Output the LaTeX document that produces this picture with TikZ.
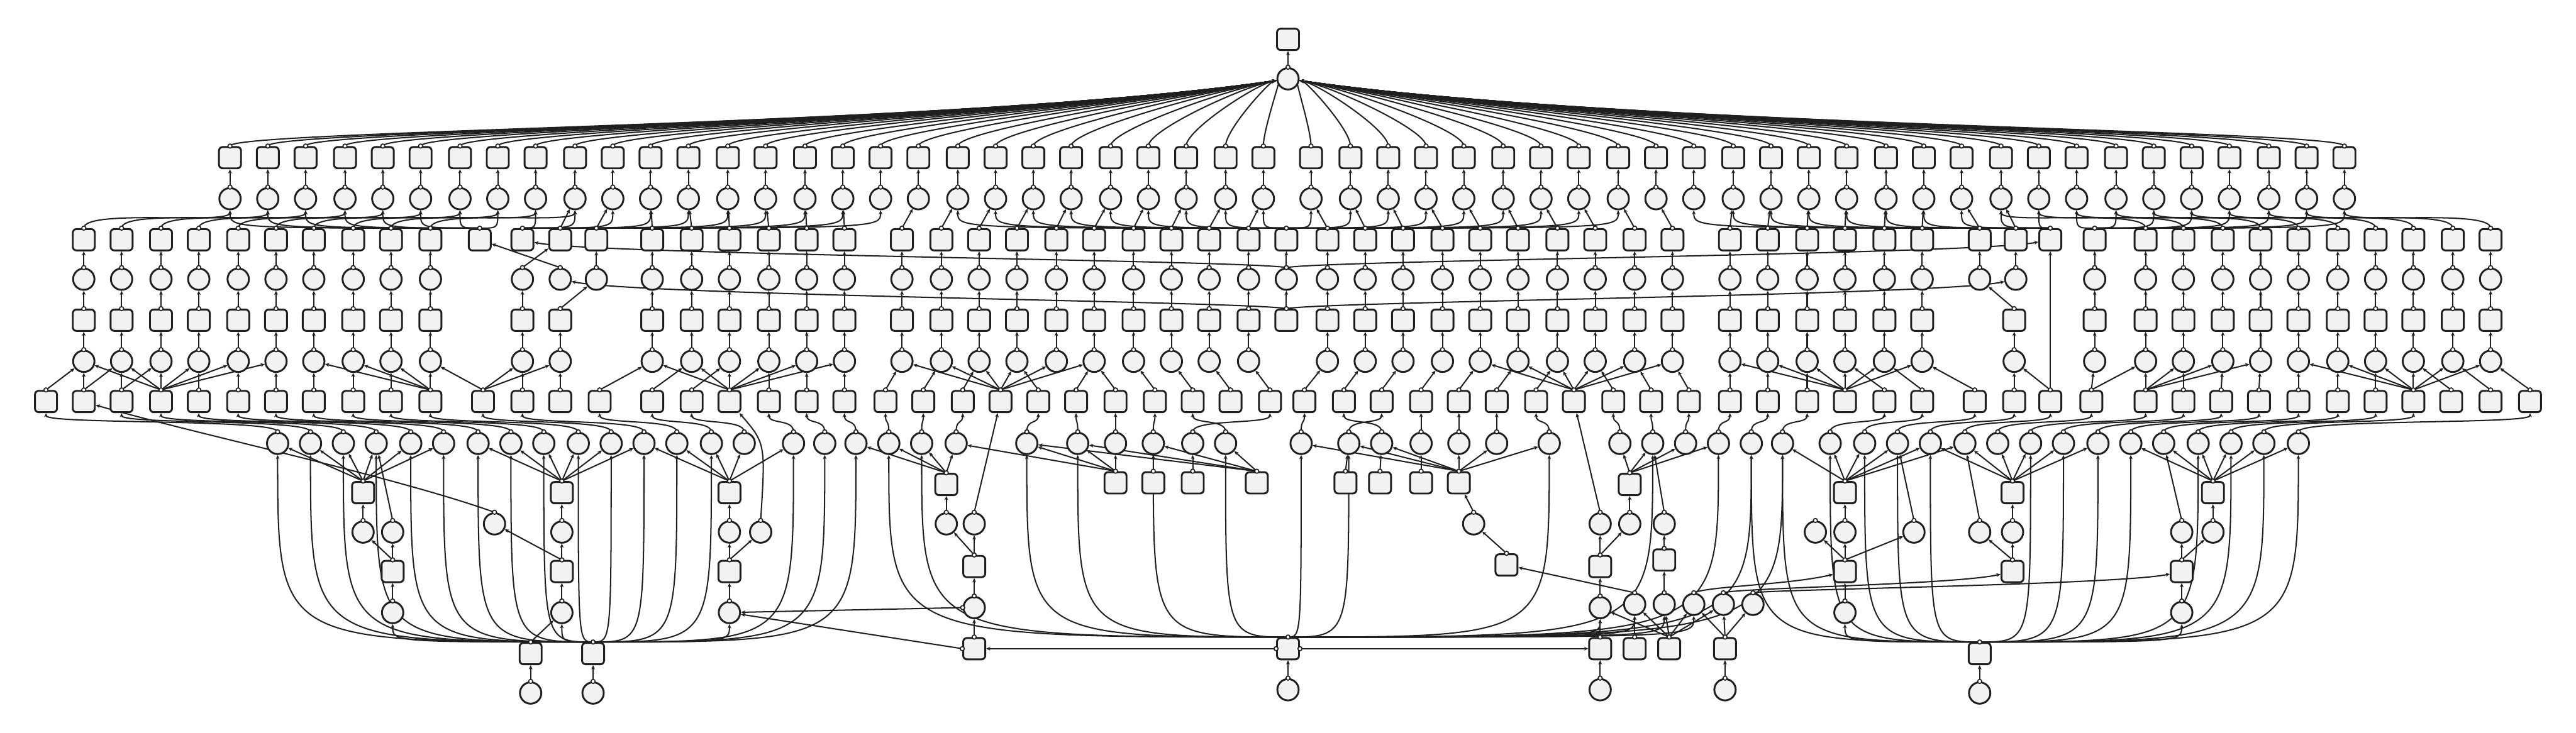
\documentclass[tikz,border=0pt]{standalone}
\usetikzlibrary{arrows.meta,backgrounds}
\definecolor{ink}{HTML}{1F1F1F}
\definecolor{paper}{HTML}{F2F2F2}
\begin{document}
\begin{tikzpicture}[x=0.05cm, y=-0.05cm,
  op/.style={draw=ink, fill=paper, line width=1.6pt, rounded corners=3.2pt,
             minimum width=6.7mm, minimum height=6.5mm, inner sep=0pt},
  val/.style={draw=ink, fill=paper, line width=1.6pt, circle, minimum size=6.5mm, inner sep=0pt},
  port/.style={draw=ink, fill=white, line width=0.9pt, circle, minimum size=1.25mm, inner sep=0pt},
  ar/.style={draw=ink, line width=1.1pt, -{Stealth[length=3.6pt,width=3.2pt]}},
]
\useasboundingbox (0,0) rectangle (1568,446);

\node[op] (out) at (784,24) {};
\node[val] (root) at (784,48) {}; \node[port] at (root.north) {};

\foreach \x in {140,163,186,210,233,256,280,303,326,350,373,396,419,443,466,490,513,536,559,583,606,629,652,676,699,722,746,769,
                798,822,845,868,891,915,938,961,985,1008,1031,1055,1078,1101,1124,1148,1171,1194,1218,1241,1264,1288,1311,1334,1357,1381,1404,1427} {
  \node[op] (a\x) at (\x,96) {}; \node[port] at (a\x.north) {};
  \node[val] (b\x) at (\x,121) {}; \node[port] at (b\x.north) {};
}
\foreach \x in {51,74,98,121,145,168,191,215,238,262,292,318,341,363,397,421,444,468,491,514,549,573,596,619,643,666,690,713,736,760,783,
                808,831,854,878,901,924,948,971,995,1018,1053,1076,1100,1123,1147,1170,1205,1227,1248,1275,1306,1329,1353,1376,1399,1423,1446,1469,1493,1516} {
  \node[op] (c\x) at (\x,146) {}; \node[port] at (c\x.north) {};
}
\foreach \x in {51,74,98,121,145,168,191,215,238,262,318,341,363,397,421,444,468,491,514,549,573,596,619,643,666,690,713,736,760,783,
                808,831,854,878,901,924,948,971,995,1018,1053,1076,1100,1123,1147,1170,1205,1227,1275,1306,1329,1353,1376,1399,1423,1446,1469,1493,1516} {
  \node[val] (d\x) at (\x,170) {}; \node[port] at (d\x.north) {};
}
\foreach \x in {51,74,98,121,145,168,191,215,238,262,318,341,397,421,444,468,491,514,549,573,596,619,643,666,690,713,736,760,783,
                808,831,854,878,901,924,948,971,995,1018,1053,1076,1100,1123,1147,1170,1226,1275,1306,1329,1353,1376,1399,1423,1446,1469,1493,1516} {
  \node[op] (e\x) at (\x,195) {}; \node[port] at (e\x.north) {};
}
\foreach \x in {51,74,98,121,145,168,191,215,238,262,318,341,397,421,444,468,491,514,549,573,596,619,643,666,690,713,736,760,
                808,831,854,878,901,924,948,971,995,1018,1053,1076,1100,1123,1147,1170,1226,1275,1306,1329,1353,1376,1399,1423,1446,1469,1493,1516} {
  \node[val] (f\x) at (\x,220) {}; \node[port] at (f\x.north) {};
}
\foreach \x in {28,51,74,98,121,145,168,191,215,238,262,294,318,341,365,397,421,444,468,491,514,539,562,586,609,632,655,679,703,726,749,773,
                794,818,841,865,888,911,935,958,982,1005,1028,1053,1076,1100,1123,1147,1170,1202,1226,1248,1273,1306,1329,1352,1375,1399,1423,1446,1469,1492,1516,1540} {
  \node[op] (g\x) at (\x,244.5) {}; \node[port] at (g\x.north) {};
}
\foreach \x in {169,189,209,229,250,270,291,311,331,352,372,392,412,433,453,483,502,521,541,561,582,625,656,679,702,726,746,
                792,821,841,865,888,911,943,986,1006,1026,1046,1066,1085,1114,1135,1155,1175,1196,1216,1236,1256,1277,1297,1317,1338,1358,1378,1399} {
  \node[val] (h\x) at (\x,270) {}; \node[port] at (h\x.north) {};
}
\foreach \x/\y in {221/300,342/300,444/300,576/295,679/294,702/294,726/294,765/294,819/294,840/294,865/294,888/294,992/295,1123/300,1225/300,1347/300} {
  \node[op] (i\x) at (\x,\y) {}; \node[port] at (i\x.north) {};
}
\foreach \x/\y in {221/324,239/324,301/319,342/324,444/324,463/324,576/319,593/319,897/319,974/319,992/319,1013/319,1105/324,1123/324,1165/324,1205/324,1225/324,1328/324,1347/324} {
  \node[val] (j\x) at (\x,\y) {}; \node[port] at (j\x.north) {};
}
\foreach \x/\y in {239/348,342/348,444/348,593/345,917/344,974/345,1013/341,1123/348,1225/348,1328/348} {
  \node[op] (k\x) at (\x,\y) {}; \node[port] at (k\x.north) {};
}
\foreach \x/\y in {239/373,342/373,444/373,593/370,974/370,995/368,1013/368,1031/368,1049/368,1067/368,1123/373,1328/373} {
  \node[val] (l\x) at (\x,\y) {}; \node[port] at (l\x.north) {};
}
\foreach \x/\y in {323/398,361/398,593/395,784/395,974/395,995/395,1016/395,1050/395,1205/398} {
  \node[op] (m\x) at (\x,\y) {}; \node[port] at (m\x.north) {};
}
\foreach \x/\y in {323/422,361/422,784/420,974/420,1050/420,1205/422} {
  \node[val] (n\x) at (\x,\y) {}; \node[port] at (n\x.north) {};
}
\node[port] at (m784.west) {}; \node[port] at (m784.east) {};
\node[port] at (m593.west) {}; \node[port] at (l593.west) {};

\begin{pgfonlayer}{background}
\fill[white] (0,0) rectangle (1568,446);
\draw[ar] (root.north) -- (out);
\foreach \x in {140,163,186,210,233,256,280,303,326,350,373,396,419,443,466,490,513,536,559,583,606,629,652,676,699,722,746,769,
                798,822,845,868,891,915,938,961,985,1008,1031,1055,1078,1101,1124,1148,1171,1194,1218,1241,1264,1288,1311,1334,1357,1381,1404,1427} {
  \pgfmathsetmacro\cx{548.8+0.3*\x}
  \pgfmathsetmacro\cy{48+0.045*abs(784-\x)}
  \draw[ar] (b\x.north) -- (a\x);
  \draw[ar] (a\x.north) .. controls +(0,-10) and (\cx,\cy) .. (root);
}
\foreach \c/\b in {51/140,74/163,98/186,121/210,145/233,168/256,191/280,215/303,238/326,262/350,
                   1306/1218,1329/1241,1353/1264,1376/1288,1399/1311,1423/1334,1446/1357,1469/1381,1493/1404,1516/1427}
  \draw[ar] (c\c.north) .. controls +(0,-12) and +(0,16) .. (b\b);
\foreach \c/\b in {341/350,363/373,397/396,421/419,444/443,468/466,491/490,514/513,549/559,573/583,596/606,619/629,643/652,666/676,
                   690/699,713/722,736/746,760/769,808/798,831/822,854/845,878/868,901/891,924/915,948/938,971/961,995/985,1018/1008,
                   1053/1055,1076/1078,1100/1101,1123/1124,1147/1148,1170/1171,1205/1194,1227/1218}
  \draw[ar] (c\c.north) -- (b\b);
\foreach \h/\b in {292/140,292/163,292/186,292/210,292/233,292/256,292/280,292/303,
                   318/326,318/350,318/373,318/396,318/419,318/443,318/466,318/490,318/513,318/536,
                   783/583,783/606,783/629,783/652,783/676,783/699,783/722,783/746,783/769,783/798,783/822,783/845,783/868,783/891,
                   783/915,783/938,783/961,783/985,
                   1248/1031,1248/1055,1248/1078,1248/1101,1248/1124,1248/1148,1248/1171,1248/1194,1248/1218,1248/1241,
                   1275/1264,1275/1288,1275/1311,1275/1334,1275/1357,1275/1381,1275/1404,1275/1427}
  \draw[ar] (c\h.north) .. controls (b\b |- c\h.north) .. (b\b);

\foreach \x in {51,74,98,121,145,168,191,215,238,262,363,397,421,444,468,491,514,549,573,596,619,643,666,690,713,736,760,783,
                808,831,854,878,901,924,948,971,995,1018,1053,1076,1100,1123,1147,1170,1205,1227,1275,1306,1329,1353,1376,1399,1423,1446,1469,1493,1516}
  \draw[ar] (d\x.north) -- (c\x);
\draw[ar] (d318.north) -- (c341); \draw[ar] (d341.north) -- (c292);
\foreach \x in {51,74,98,121,145,168,191,215,238,262,318,397,421,444,468,491,514,549,573,596,619,643,666,690,713,736,760,783,
                808,831,854,878,901,924,948,971,995,1018,1053,1076,1100,1123,1147,1170,1275,1306,1329,1353,1376,1399,1423,1446,1469,1493,1516}
  \draw[ar] (e\x.north) -- (d\x);
\draw[ar] (e341.north) -- (d363); \draw[ar] (e1226.north) -- (d1205);
\foreach \x in {51,74,98,121,145,168,191,215,238,262,318,341,397,421,444,468,491,514,549,573,596,619,643,666,690,713,736,760,
                808,831,854,878,901,924,948,971,995,1018,1053,1076,1100,1123,1147,1170,1226,1275,1306,1329,1353,1376,1399,1423,1446,1469,1493,1516}
  \draw[ar] (f\x.north) -- (e\x);
\draw[ar] (d783.north) .. controls (760,158.5) and (360,155) .. (c318);
\draw[ar] (d783.north) .. controls (806,158.5) and (1200,155) .. (c1248);
\draw[ar] (e783.north) .. controls (760,183.5) and (390,180) .. (d341);
\draw[ar] (e783.north) .. controls (806,183.5) and (1180,180) .. (d1227);
\draw[ar] (g1248.north) -- (c1248);

\foreach \g/\f in {28/51,51/51,51/74,74/74,74/98,98/51,98/74,98/98,98/121,98/145,98/168,121/121,145/145,168/168,191/191,215/215,238/238,
                   262/191,262/215,262/238,262/262,294/262,294/318,294/341,318/318,341/341,365/397,397/421,421/444,
                   444/397,444/421,444/444,444/468,444/491,444/514,468/468,491/491,514/514,539/549,562/573,586/596,
                   609/549,609/573,609/596,609/619,609/643,609/666,632/619,655/666,679/666,703/690,726/713,749/736,773/760,
                   794/808,818/831,841/854,865/878,888/901,911/924,935/948,958/901,958/924,958/948,958/971,958/995,958/1018,
                   982/971,1005/995,1028/1018,1053/1053,1076/1076,1100/1100,1123/1053,1123/1076,1123/1100,1123/1123,1123/1147,1123/1170,
                   1147/1123,1170/1147,1202/1170,1226/1226,1248/1226,1273/1275,1273/1306,1306/1306,1306/1329,1306/1353,1306/1376,
                   1329/1329,1352/1353,1375/1376,1399/1399,1423/1423,1446/1446,1469/1399,1469/1423,1469/1446,1469/1469,1469/1493,1469/1516,
                   1492/1469,1516/1493,1540/1516}
  \draw[ar] (g\g.north) -- (f\f);

\foreach \h/\g in {169/28,189/74,209/98,229/121,250/145,270/168,291/191,311/215,331/238,352/262,372/294,392/318,412/365,433/397,453/421,
                   483/468,502/491,521/514,541/539,561/562,582/586,625/632,656/655,679/679,702/703,726/773,746/726,
                   792/794,821/841,841/818,865/865,888/888,911/911,943/935,986/982,1006/1005,1026/1028,1046/1053,1066/1076,1085/1100,
                   1114/1147,1135/1170,1155/1202,1175/1226,1196/1248,1216/1273,1236/1306,1256/1329,1277/1352,1297/1375,1317/1399,
                   1338/1423,1358/1446,1378/1469,1399/1540}
  \draw[ar] (h\h.north) .. controls +(0,-8) and +(0,14) .. (g\g);
\draw[ar] (j301.north) .. controls (240,290) and (110,262) .. (g51);
\draw[ar] (j463.north) .. controls (466,270) .. (g444);

\foreach \s/\t in {i221/h169,i221/h189,i221/h209,i221/h229,i221/h250,i221/h270,
                   i342/h291,i342/h311,i342/h331,i342/h352,i342/h372,i342/h392,
                   i444/h392,i444/h412,i444/h433,i444/h453,i444/h483,
                   i576/h521,i576/h541,i576/h561,i576/h582,
                   i679/h582,i679/h625,i679/h656,i679/h679,i702/h702,i726/h726,
                   i765/h625,i765/h656,i765/h702,i765/h746,
                   i819/h821,i840/h841,i865/h865,
                   i888/h792,i888/h821,i888/h841,i888/h888,i888/h911,i888/h943,
                   i992/h986,i992/h1006,i992/h1026,i992/h1046,
                   i1123/h1085,i1123/h1114,i1123/h1135,i1123/h1155,i1123/h1175,i1123/h1196,
                   i1225/h1175,i1225/h1196,i1225/h1216,i1225/h1236,i1225/h1256,i1225/h1277,
                   i1347/h1297,i1347/h1317,i1347/h1338,i1347/h1358,i1347/h1378,i1347/h1399,
                   j221/i221,j342/i342,j444/i444,j576/i576,j992/i992,j1123/i1123,j1225/i1225,j1347/i1347,j897/i888,
                   j239/h229,j1013/h1006,j1165/h1155,j1205/h1196,j1328/h1317,j593/g609,j974/g958,
                   k239/j239,k239/j221,k342/j342,k342/j301,k444/j444,k444/j463,k593/j593,k593/j576,k917/j897,
                   k974/j974,k974/j992,k1013/j1013,k1123/j1123,k1123/j1105,k1123/j1165,k1225/j1225,k1225/j1205,k1328/j1328,k1328/j1347,
                   l239/k239,l342/k342,l444/k444,l593/k593,l974/k974,l995/k917,l1013/k1013,l1123/k1123,l1328/k1328,
                   m974/l974,m995/l995,m1016/l974,m1016/l995,m1016/l1013,m1016/l1031,m1016/l1049,
                   m1050/l1031,m1050/l1049,m1050/l1067,m593/l593,m323/l342,
                   n323/m323,n361/m361,n784/m784,n974/m974,n1050/m1050,n1205/m1205}
  \draw[ar] (\s.north) -- (\t);
\draw[ar] (l1031.north) .. controls (1040,357) and (1090,356) .. (k1123);
\draw[ar] (l1049.north) .. controls (1058,358) and (1190,356) .. (k1225);
\draw[ar] (l1067.north) .. controls (1076,359) and (1290,356) .. (k1328);
\draw[ar] (m784.west) -- (m593);
\draw[ar] (m784.east) -- (m974);
\draw[ar] (l593.west) -- (l444);
\draw[ar] (m593.west) -- (l444);

\foreach \t in {h169,h189,h209,h229,h250,h270,h291,h311,h331,h352,h372,h392,h412,h433,h483,h502,h521,l239,l342,l444}
  \draw[ar] (m361.north) .. controls (\t |- m361.north) .. (\t);
\foreach \t in {h541,h561,h625,h656,h702,h746,h792,h821,h943,h1006,h1046,h1066,h1085,l974,l995,l1013,l1031}
  \draw[ar] (m784.north) .. controls (\t |- m784.north) .. (\t);
\foreach \t in {h1066,h1085,h1114,h1135,h1155,h1175,h1236,h1256,h1277,h1297,h1338,h1358,h1378,h1399,l1123,l1328}
  \draw[ar] (m1205.north) .. controls (\t |- m1205.north) .. (\t);
\end{pgfonlayer}
\end{tikzpicture}
\end{document}
